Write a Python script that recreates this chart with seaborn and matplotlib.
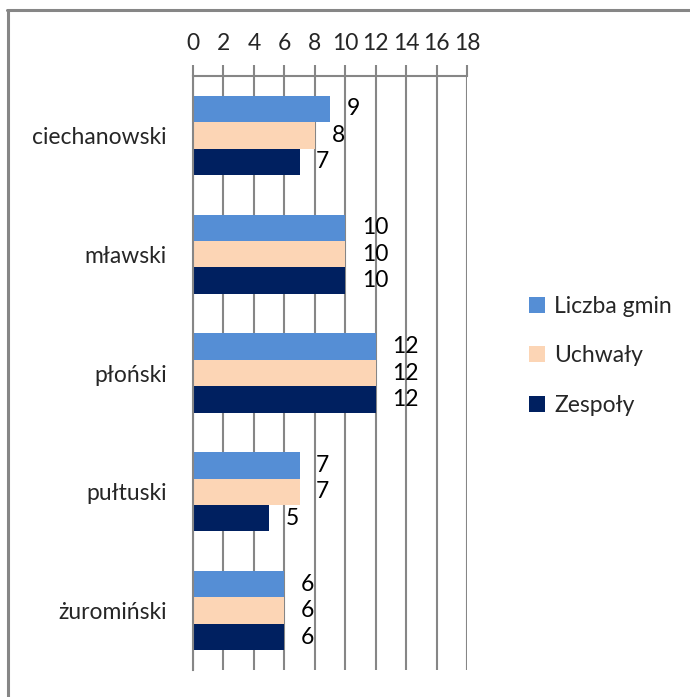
import matplotlib
matplotlib.use("Agg")
import matplotlib.pyplot as plt
import matplotlib.patches as mpatches
import matplotlib.lines as mlines
import seaborn as sns
import pandas as pd

categories = ["ciechanowski", "mławski", "płoński", "pułtuski", "żuromiński"]
series_names = ["Liczba gmin", "Uchwały", "Zespoły"]
liczba_gmin = [9, 10, 12, 7, 6]
uchwaly = [8, 10, 12, 7, 6]
zespoly = [7, 10, 12, 5, 6]
x_ticks = [0, 2, 4, 6, 8, 10, 12, 14, 16, 18]
colors = ["#558ED5", "#FCD5B5", "#002060"]

rows = []
for name, vals in zip(series_names, [liczba_gmin, uchwaly, zespoly]):
    for c, v in zip(categories, vals):
        rows.append({"powiat": c, "seria": name, "wartosc": v})
df = pd.DataFrame(rows)

sns.set_style("white")
plt.rcParams["font.family"] = ["Lato", "DejaVu Sans"]
FS = 16.5

fig = plt.figure(figsize=(6.9, 6.97), dpi=100)
ax = fig.add_axes([193/690, 1-670/697, 274/690, 594/697])

sns.barplot(data=df, y="powiat", x="wartosc", hue="seria", order=categories,
            hue_order=series_names, palette=colors, orient="h", width=0.667,
            gap=0, saturation=1, ax=ax, legend=False, edgecolor="none", linewidth=0)

for cont in ax.containers:
    ax.bar_label(cont, padding=12, fontsize=FS, color="black")

ax.set_xlim(0, 18)
ax.set_ylim(len(categories)-0.5, -0.5)
ax.set_xticks(x_ticks)
ax.xaxis.tick_top()
ax.xaxis.set_label_position("top")
ax.tick_params(axis="x", which="major", length=8, width=1.5, color="#868686",
               labelsize=FS, pad=8, direction="out")
ax.grid(axis="x", color="#868686", linewidth=1.5)
ax.set_axisbelow(True)

# category boundary ticks on y axis, labels as minor ticks
ax.set_yticks([i - 0.5 for i in range(len(categories)+1)])
ax.set_yticklabels([])
ax.set_yticks(range(len(categories)), minor=True)
ax.set_yticklabels(categories, minor=True)
ax.tick_params(axis="y", which="major", length=7, width=1.5, color="#868686", direction="out")
ax.tick_params(axis="y", which="minor", length=0, labelsize=FS, pad=19)
ax.set_xlabel("")
ax.set_ylabel("")

for side in ["bottom", "right"]:
    ax.spines[side].set_visible(False)
for side in ["top", "left"]:
    ax.spines[side].set_color("#868686")
    ax.spines[side].set_linewidth(1.5)

handles = [mpatches.Patch(facecolor=c, edgecolor="none") for c in colors]
fig.legend(handles, series_names, loc="center left", bbox_to_anchor=(520/690, 1-356/697),
           frameon=False, fontsize=FS, handlelength=0.7, handleheight=0.7,
           handletextpad=0.4, labelspacing=1.25, borderaxespad=0)

# frame only on top and left edges
fig.lines.append(mlines.Line2D([7/690, 1], [1-9.5/697, 1-9.5/697], transform=fig.transFigure,
                               color="#868686", linewidth=2.2))
fig.lines.append(mlines.Line2D([7.5/690, 7.5/690], [0, 1-9.5/697], transform=fig.transFigure,
                               color="#868686", linewidth=2.2))

fig.savefig("out.png", dpi=100)
